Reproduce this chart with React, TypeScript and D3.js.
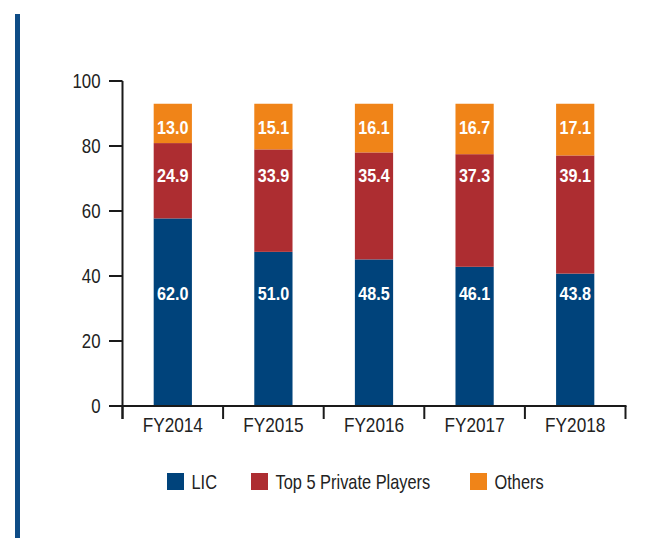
import React from "react";
import * as d3 from "d3";

const categories = ["FY2014", "FY2015", "FY2016", "FY2017", "FY2018"];
const seriesNames = ["LIC", "Top 5 Private Players", "Others"];
const lic = [62.0, 51.0, 48.5, 46.1, 43.8];
const top5 = [24.9, 33.9, 35.4, 37.3, 39.1];
const others = [13.0, 15.1, 16.1, 16.7, 17.1];
const yTicks = [0, 20, 40, 60, 80, 100];
// the source draws each stacked column to a height of 93 on the axis
const columnTotal = 93;
// vertical anchor (in axis units) of each series' value labels
const labelAnchors = [34.6, 70.9, 85.7];
const colors = ["#00437b", "#ad2d31", "#f08418"];

const W = 647;
const H = 538;
const FONT = "'Liberation Sans', Arial, sans-serif";

function NText(props: { x: number; y: number; sx?: number; anchor?: string; size: number; fill: string; bold?: boolean; children: any }) {
  const { x, y, sx = 0.82, anchor = "start", size, fill, bold, children } = props;
  return (
    <text
      transform={`translate(${x},${y}) scale(${sx},1)`}
      dy="0.36em"
      textAnchor={anchor}
      fontSize={size}
      fill={fill}
      fontWeight={bold ? "bold" : "normal"}
    >
      {children}
    </text>
  );
}

export default function App() {
  const x = d3.scaleBand<string>().domain(categories).range([122.5, 625.5]).paddingInner(0.62).paddingOuter(0.31);
  const xb = d3.scaleBand<string>().domain(categories).range([122.5, 625.5]);
  const y = d3.scaleLinear().domain([0, 100]).range([406, 81]);

  const rows = categories.map((c, i) => {
    const vals = [lic[i], top5[i], others[i]];
    const sum = d3.sum(vals);
    return { cat: c, LIC: (vals[0] / sum) * columnTotal, T5: (vals[1] / sum) * columnTotal, O: (vals[2] / sum) * columnTotal, vals };
  });
  const stack = d3.stack<any>().keys(["LIC", "T5", "O"]);
  const layers = stack(rows);

  const legendItems = [
    { x: 167, name: seriesNames[0], c: colors[0] },
    { x: 251, name: seriesNames[1], c: colors[1] },
    { x: 470, name: seriesNames[2], c: colors[2] },
  ];

  return (
    <svg width={W} height={H} style={{ position: "absolute", left: 0, top: 0, background: "#fff" }} fontFamily={FONT}>
      <rect x={15} y={14} width={5} height={H - 14} fill="#0e4c86" />
      {layers.map((layer, li) =>
        layer.map((d, i) => (
          <rect key={`${li}-${i}`} x={x(categories[i])} width={x.bandwidth()} y={y(d[1])} height={y(d[0]) - y(d[1])} fill={colors[li]} />
        ))
      )}
      {layers.map((layer, li) =>
        layer.map((d, i) => (
          <NText key={`t${li}-${i}`} x={(x(categories[i]) as number) + x.bandwidth() / 2} y={y(labelAnchors[li])} anchor="middle" fill="#fff" bold size={19} sx={0.85}>
            {rows[i].vals[li].toFixed(1)}
          </NText>
        ))
      )}
      {/* y axis */}
      <line x1={122.5} x2={122.5} y1={y(100)} y2={419} stroke="#1a1a1a" strokeWidth={2} />
      {yTicks.map((t) => (
        <g key={t}>
          <line x1={109} x2={122.5} y1={y(t)} y2={y(t)} stroke="#1a1a1a" strokeWidth={2} />
          <NText x={100.5} y={y(t)} anchor="end" size={20.5} fill="#222">{t}</NText>
        </g>
      ))}
      {/* x axis */}
      <line x1={122.5} x2={626.5} y1={406} y2={406} stroke="#1a1a1a" strokeWidth={2} />
      {[...categories.map((c) => xb(c) as number), 625.5].map((bx, i) => (
        <line key={i} x1={bx} x2={bx} y1={406} y2={419} stroke="#1a1a1a" strokeWidth={2} />
      ))}
      {categories.map((c) => (
        <NText key={c} x={(xb(c) as number) + xb.bandwidth() / 2} y={424} anchor="middle" size={21} fill="#222">{c}</NText>
      ))}
      {/* legend */}
      {legendItems.map((it) => (
        <g key={it.name}>
          <rect x={it.x} y={473} width={17} height={17} fill={it.c} />
          <NText x={it.x + 24.5} y={481.5} size={20} fill="#222">{it.name}</NText>
        </g>
      ))}
    </svg>
  );
}
